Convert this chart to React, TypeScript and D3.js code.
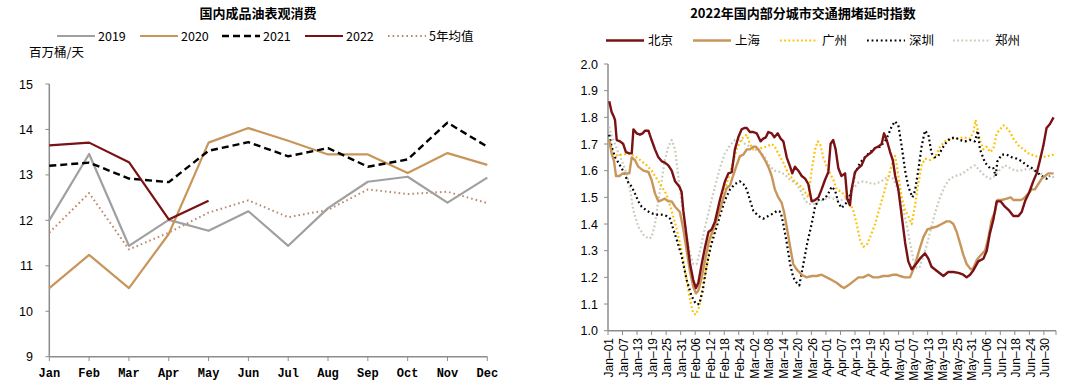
import React from 'react';
import * as d3 from 'd3';

// ---------- Left chart data ----------
const months = ['Jan', 'Feb', 'Mar', 'Apr', 'May', 'Jun', 'Jul', 'Aug', 'Sep', 'Oct', 'Nov', 'Dec'];
const s2019 = [12.0, 13.46, 11.44, 12.01, 11.77, 12.2, 11.44, 12.27, 12.85, 12.96, 12.39, 12.94];
const s2020 = [10.51, 11.24, 10.51, 11.7, 13.71, 14.03, 13.75, 13.45, 13.45, 13.04, 13.48, 13.22];
const s2021 = [13.2, 13.27, 12.92, 12.84, 13.53, 13.72, 13.41, 13.59, 13.18, 13.34, 14.15, 13.62];
const s2022 = [13.65, 13.71, 13.28, 12.02, 12.43];
const s5yr = [11.73, 12.6, 11.36, 11.73, 12.17, 12.44, 12.07, 12.23, 12.68, 12.58, 12.63, 12.38];
const leftTicks = [9, 10, 11, 12, 13, 14, 15];

// ---------- Right chart data (day index from Jan-01, value) ----------
const dayCount = 185;
const cityTickLabels = [
  'Jan–01', 'Jan–07', 'Jan–13', 'Jan–19', 'Jan–25', 'Jan–31', 'Feb–06', 'Feb–12', 'Feb–18', 'Feb–24',
  'Mar–02', 'Mar–08', 'Mar–14', 'Mar–20', 'Mar–26', 'Apr–01', 'Apr–07', 'Apr–13', 'Apr–19', 'Apr–25',
  'May–01', 'May–07', 'May–13', 'May–19', 'May–25', 'May–31', 'Jun–06', 'Jun–12', 'Jun–18', 'Jun–24', 'Jun–30',
];
const rightTicks = [1.0, 1.1, 1.2, 1.3, 1.4, 1.5, 1.6, 1.7, 1.8, 1.9, 2.0];

const beijing: [number, number][] = [
  [0, 1.86], [1, 1.82], [2, 1.8], [2.4, 1.79], [3.1, 1.715], [4.5, 1.71], [5.8, 1.7], [6.9, 1.67], [8.3, 1.665],
  [9.3, 1.665], [10, 1.755], [11.3, 1.74], [12.7, 1.735], [13.8, 1.74], [14.8, 1.75], [16.2, 1.75], [17.5, 1.715],
  [18.9, 1.68], [20.3, 1.65], [21.7, 1.635], [23, 1.63], [24.4, 1.62], [25.8, 1.6], [27.2, 1.56], [29, 1.54],
  [29.9, 1.52], [30.6, 1.45], [32, 1.35], [33.4, 1.25], [34.7, 1.19], [35.8, 1.16], [36.8, 1.18], [38.2, 1.25],
  [39.6, 1.315], [41, 1.37], [42.3, 1.38], [43.7, 1.41], [45.7, 1.49], [47.8, 1.56], [49.2, 1.59], [50.6, 1.595],
  [51.9, 1.68], [53.3, 1.725], [54.7, 1.755], [55.8, 1.76], [56.8, 1.76], [58.1, 1.745], [59.5, 1.745], [60.9, 1.74],
  [62.5, 1.71], [63.6, 1.72], [64.7, 1.725], [65.7, 1.745], [67.1, 1.74], [68.2, 1.725], [69.6, 1.74], [70.8, 1.72],
  [71.9, 1.71], [73.3, 1.65], [74.7, 1.615], [75.6, 1.59], [76.7, 1.615], [78.1, 1.6], [79.5, 1.58], [80.9, 1.57],
  [82.2, 1.55], [83.6, 1.485], [85, 1.49], [86.4, 1.5], [87.7, 1.53], [89.1, 1.565], [90.5, 1.595], [91.4, 1.7],
  [92.5, 1.715], [93.5, 1.68], [94.6, 1.61], [95.9, 1.58], [97.4, 1.59], [98.3, 1.495], [99.4, 1.47], [100.1, 1.53],
  [101.5, 1.595], [102.9, 1.61], [104.2, 1.62], [105.6, 1.65], [107, 1.66], [108.4, 1.67], [109.8, 1.685],
  [111.1, 1.69], [112.5, 1.7], [113.5, 1.74], [114.6, 1.715], [116, 1.67], [117.1, 1.64], [118.1, 1.58],
  [119.4, 1.53], [120.8, 1.43], [122.2, 1.33], [123.5, 1.26], [124.9, 1.23], [126.3, 1.245], [128.3, 1.27],
  [130.4, 1.29], [131.8, 1.27], [133.1, 1.24], [135.2, 1.225], [138, 1.205], [140, 1.22], [142.1, 1.22],
  [144.2, 1.217], [146.2, 1.21], [147.6, 1.2], [149, 1.21], [150.4, 1.227], [152.4, 1.26], [154.5, 1.27],
  [155.9, 1.3], [157.2, 1.365], [158.6, 1.415], [160, 1.485], [161.6, 1.485], [163.4, 1.465], [165.2, 1.45],
  [166.9, 1.43], [169, 1.43], [170.3, 1.445], [171.7, 1.485], [173.5, 1.52], [175.1, 1.56], [176.5, 1.59],
  [177.9, 1.64], [179.3, 1.695], [180.6, 1.76], [182, 1.775], [183.5, 1.8],
];

const shanghai: [number, number][] = [
  [0, 1.715], [1, 1.665], [2, 1.635], [2.8, 1.58], [4.2, 1.58], [5.6, 1.59], [7.2, 1.59], [8.3, 1.59], [9.3, 1.65],
  [10.6, 1.64], [12, 1.615], [14.1, 1.6], [16.2, 1.595], [17.5, 1.565], [18.9, 1.515], [20.3, 1.485], [21.7, 1.49],
  [23, 1.495], [24.4, 1.485], [25.8, 1.485], [27.2, 1.465], [29.2, 1.445], [30.6, 1.38], [32, 1.3], [33.4, 1.22],
  [34.7, 1.165], [35.8, 1.14], [36.8, 1.15], [38.2, 1.2], [39.6, 1.265], [41, 1.33], [42.3, 1.365], [44.4, 1.415],
  [46.4, 1.475], [48.5, 1.535], [49.9, 1.545], [51.3, 1.585], [52.6, 1.62], [54, 1.655], [55.4, 1.66], [56.8, 1.68],
  [58.1, 1.68], [59.5, 1.69], [60.5, 1.69], [61.6, 1.68], [63, 1.66], [64.3, 1.64], [65.7, 1.615], [67.1, 1.58],
  [68.4, 1.53], [69.8, 1.5], [71.2, 1.48], [72.2, 1.445], [73.3, 1.39], [74.7, 1.315], [76, 1.25], [77.4, 1.23],
  [79.5, 1.21], [81.5, 1.2], [83.6, 1.205], [85.7, 1.205], [87.7, 1.21], [89.8, 1.2], [91.9, 1.19], [93.9, 1.18],
  [96, 1.165], [97, 1.16], [98.7, 1.17], [100.8, 1.185], [102.9, 1.2], [104.9, 1.2], [107, 1.21], [109.1, 1.2],
  [111.1, 1.2], [113.2, 1.205], [115.3, 1.205], [117.3, 1.21], [118.7, 1.21], [120.1, 1.205], [122.1, 1.2],
  [124.2, 1.2], [125.6, 1.23], [127, 1.27], [128.3, 1.31], [129.7, 1.35], [131.4, 1.38], [133.1, 1.385],
  [135.2, 1.39], [137.3, 1.4], [139.3, 1.41], [140.7, 1.41], [142.1, 1.4], [143.5, 1.37], [144.8, 1.33],
  [146.2, 1.285], [147.6, 1.25], [149.3, 1.23], [150.4, 1.235], [151.8, 1.265], [153.1, 1.28], [155.2, 1.3],
  [156.6, 1.35], [157.9, 1.415], [159.3, 1.445], [160.3, 1.49], [162.1, 1.49], [164.2, 1.495], [165.8, 1.5],
  [166.9, 1.49], [168.3, 1.49], [170, 1.49], [171.1, 1.495], [172.7, 1.51], [174.5, 1.53], [175.8, 1.53],
  [177.2, 1.55], [178.6, 1.57], [180, 1.58], [181.3, 1.59], [183.5, 1.59],
];

const guangzhou: [number, number][] = [
  [0, 1.71], [1, 1.68], [2.4, 1.655], [3.8, 1.66], [5.8, 1.66], [7.9, 1.665], [9.3, 1.66], [11.3, 1.65],
  [13.4, 1.635], [15.5, 1.62], [17.5, 1.6], [19.6, 1.57], [21.7, 1.54], [23.7, 1.51], [25.8, 1.45], [27.9, 1.38],
  [29.9, 1.3], [32, 1.19], [33.4, 1.115], [34.7, 1.065], [35.8, 1.06], [37.2, 1.09], [38.9, 1.18], [41, 1.28],
  [42.3, 1.34], [44.4, 1.415], [46.4, 1.48], [48.5, 1.55], [50.6, 1.615], [52.6, 1.68], [54.7, 1.72], [56.8, 1.735],
  [58.1, 1.7], [59.5, 1.68], [60.9, 1.68], [63, 1.685], [65, 1.69], [67.1, 1.7], [68.4, 1.69], [69.8, 1.665],
  [71.9, 1.63], [73.9, 1.59], [76, 1.565], [78.1, 1.55], [80.2, 1.53], [82.2, 1.5], [83.6, 1.6], [85, 1.68],
  [86.1, 1.71], [87.1, 1.7], [88.4, 1.65], [89.8, 1.615], [91.2, 1.59], [92.6, 1.565], [93.9, 1.53], [96, 1.52],
  [97.8, 1.5], [99.4, 1.48], [100.8, 1.45], [102.2, 1.4], [103.6, 1.34], [104.9, 1.315], [106.3, 1.32],
  [107.7, 1.35], [109.8, 1.4], [111.8, 1.465], [113.9, 1.53], [116, 1.6], [117.3, 1.64], [118.1, 1.655],
  [119.4, 1.58], [120.8, 1.5], [122.2, 1.45], [123.5, 1.43], [124.9, 1.4], [126.3, 1.47], [127.6, 1.55],
  [129, 1.62], [130.4, 1.645], [132.5, 1.64], [134.5, 1.65], [136.6, 1.69], [138.7, 1.71], [140.7, 1.72],
  [143.5, 1.72], [146.2, 1.725], [149, 1.72], [150.4, 1.745], [151.3, 1.79], [152.2, 1.75], [153.1, 1.715],
  [154.5, 1.68], [155.9, 1.69], [157.2, 1.67], [158.6, 1.68], [160, 1.74], [161.4, 1.755], [162.8, 1.77],
  [164.1, 1.76], [165.5, 1.745], [166.9, 1.72], [169, 1.695], [171.1, 1.68], [173.1, 1.665], [175.8, 1.655],
  [178.6, 1.65], [181.3, 1.655], [183.5, 1.66],
];

const shenzhen: [number, number][] = [
  [0, 1.735], [1, 1.69], [2.4, 1.65], [3.8, 1.63], [5.1, 1.61], [6.5, 1.585], [7.9, 1.555], [9.3, 1.54],
  [10.6, 1.515], [12, 1.485], [13.4, 1.465], [15.5, 1.45], [17.5, 1.44], [19.6, 1.435], [21.7, 1.435], [23.7, 1.43],
  [25.1, 1.42], [26.5, 1.38], [28.1, 1.335], [29.9, 1.28], [32, 1.19], [34, 1.13], [35.8, 1.1], [37.2, 1.1],
  [38.6, 1.15], [40.2, 1.24], [41.9, 1.315], [43.7, 1.37], [45.7, 1.43], [47.8, 1.49], [49.9, 1.53], [51.9, 1.55],
  [54, 1.56], [55.4, 1.55], [56.8, 1.53], [58.1, 1.49], [59.5, 1.45], [61.6, 1.43], [63.6, 1.42], [65.7, 1.43],
  [67.8, 1.44], [69.4, 1.45], [70.8, 1.445], [71.9, 1.4], [73.3, 1.33], [74.7, 1.25], [76, 1.2], [77.4, 1.18],
  [78.5, 1.17], [80.2, 1.25], [81.8, 1.33], [83.6, 1.4], [85, 1.465], [86.4, 1.49], [87.7, 1.49], [89.1, 1.495],
  [90.5, 1.515], [91.9, 1.54], [93.3, 1.525], [94.6, 1.48], [96, 1.46], [97.4, 1.475], [98.7, 1.485], [100.1, 1.53],
  [101.5, 1.59], [103.6, 1.63], [105.6, 1.65], [107.7, 1.67], [109.8, 1.685], [111.8, 1.69], [113.9, 1.71],
  [115.3, 1.735], [116.6, 1.765], [118, 1.785], [119.4, 1.77], [120.8, 1.69], [122.2, 1.6], [123.5, 1.54],
  [125.2, 1.5], [126.3, 1.525], [127.6, 1.6], [129, 1.69], [130.4, 1.75], [131.8, 1.735], [133.1, 1.665],
  [134.5, 1.65], [135.9, 1.655], [137.3, 1.68], [138.7, 1.7], [140.7, 1.72], [142.8, 1.725], [144.8, 1.715],
  [146.9, 1.71], [149, 1.715], [151, 1.71], [152.2, 1.75], [153.1, 1.68], [155.2, 1.63], [157.2, 1.61],
  [158.6, 1.61], [159.6, 1.58], [160.3, 1.635], [162.1, 1.66], [164.2, 1.66], [166.3, 1.65], [168.3, 1.645],
  [170.4, 1.635], [172.4, 1.62], [174.5, 1.61], [176.5, 1.595], [178.6, 1.58], [180.6, 1.57], [182, 1.58],
];

const zhengzhou: [number, number][] = [
  [0, 1.765], [1, 1.73], [2.4, 1.7], [3.8, 1.665], [5.1, 1.64], [7.2, 1.59], [8.6, 1.53], [10, 1.45], [12, 1.39],
  [14.1, 1.36], [16.2, 1.345], [17.5, 1.35], [18.9, 1.4], [20.3, 1.49], [21.7, 1.565], [23, 1.64], [24.4, 1.69],
  [25.8, 1.715], [27.2, 1.68], [28.5, 1.58], [29.9, 1.48], [31.3, 1.39], [33.1, 1.3], [34.7, 1.25], [36.1, 1.25],
  [37.5, 1.3], [39.6, 1.39], [41.6, 1.465], [43.7, 1.54], [45.7, 1.61], [47.8, 1.665], [49.9, 1.695], [51.9, 1.715],
  [54, 1.72], [56.1, 1.7], [58.1, 1.69], [60.2, 1.68], [62.3, 1.67], [64.3, 1.65], [66.4, 1.615], [68.4, 1.6],
  [70.5, 1.595], [72.6, 1.585], [74.7, 1.565], [76.7, 1.555], [78.8, 1.53], [80.9, 1.49], [82.2, 1.475],
  [84.3, 1.475], [86.4, 1.485], [88.4, 1.49], [90.5, 1.5], [92.6, 1.495], [94.6, 1.49], [96.7, 1.49], [98.7, 1.5],
  [100.8, 1.535], [102.9, 1.555], [104.9, 1.56], [107, 1.555], [109.1, 1.55], [111.1, 1.555], [113.2, 1.565],
  [115.3, 1.58], [117.3, 1.57], [118.7, 1.54], [120.1, 1.5], [121.5, 1.45], [123, 1.39], [124.2, 1.33],
  [125.6, 1.265], [127, 1.235], [128.3, 1.24], [129.7, 1.28], [131.1, 1.32], [132.5, 1.37], [134.5, 1.44],
  [136.6, 1.5], [138.7, 1.545], [140.7, 1.57], [142.8, 1.58], [144.8, 1.585], [146.9, 1.595], [149, 1.61],
  [151, 1.62], [153.1, 1.6], [155.2, 1.58], [157.2, 1.57], [159.3, 1.58], [161.4, 1.605], [163.4, 1.62],
  [165.5, 1.61], [167.6, 1.6], [169.6, 1.6], [171.7, 1.605], [173.8, 1.605], [175.8, 1.6], [177.9, 1.59],
  [180, 1.58], [182, 1.58], [183.7, 1.575],
];

const FONT = "'Liberation Sans', Arial, 'Noto Sans CJK SC', sans-serif";
const CJK = "'Noto Sans CJK SC', 'Liberation Sans', sans-serif";

const C_RED = '#7A1114';
const C_TAN = '#C8955A';
const C_GRAY = '#A0A0A0';
const C_YEL = '#FFC000';
const C_ZZ = '#CACABA';
const C_5Y = '#B98A6E';
const AXIS = '#8C8C8C';

export default function App() {
  // Left chart scales
  const lx = d3.scalePoint<string>().domain(months).range([49.3, 487.3]);
  const ly = d3.scaleLinear().domain([9, 15]).range([356.7, 84]);
  const mLine = d3.line<number>().x((_, i) => lx(months[i]) as number).y((d) => ly(d));

  // Right chart scales
  const rx = d3.scaleLinear().domain([0, dayCount]).range([608, 1056]);
  const ry = d3.scaleLinear().domain([1, 2]).range([330.7, 64]);
  const cLine = d3.line<[number, number]>().x((d) => rx(d[0] + 0.5)).y((d) => ry(d[1])).curve(d3.curveLinear);

  const leftSeries = [
    { name: '2019', data: s2019, color: C_GRAY, dash: undefined as string | undefined, w: 2.2 },
    { name: '2020', data: s2020, color: C_TAN, dash: undefined, w: 2.2 },
    { name: '2021', data: s2021, color: '#000000', dash: '7,4', w: 2.4 },
    { name: '2022', data: s2022, color: C_RED, dash: undefined, w: 2.2 },
    { name: '5年均值', data: s5yr, color: C_5Y, dash: '1.6,3', w: 2 },
  ];
  const leftLegendX = [57, 140, 222, 305, 388];

  const citySeries = [
    { name: '北京', data: beijing, color: C_RED, dash: undefined as string | undefined, w: 2.4 },
    { name: '上海', data: shanghai, color: C_TAN, dash: undefined, w: 2.4 },
    { name: '广州', data: guangzhou, color: C_YEL, dash: '1.8,2.4', w: 2.2 },
    { name: '深圳', data: shenzhen, color: '#000000', dash: '1.8,2.8', w: 2.2 },
    { name: '郑州', data: zhengzhou, color: C_ZZ, dash: '1.8,2.4', w: 2.2 },
  ];
  const cityLegendX = [606, 693, 780, 867, 953];
  // draw order: dotted first, then solid
  const drawOrder = [4, 2, 3, 1, 0];

  return (
    <svg
      width={1080}
      height={391}
      style={{ position: 'absolute', left: 0, top: 0, background: '#fff' }}
      fontFamily={FONT}
    >
      <rect x={0} y={0} width={1080} height={391} fill="#fff" />
      {/* ---------------- LEFT CHART ---------------- */}
      <text x={258} y={18} textAnchor="middle" fontSize={13} fontWeight="bold" fontFamily={CJK} fill="#000">
        国内成品油表观消费
      </text>
      {leftSeries.map((s, i) => (
        <g key={s.name}>
          <line x1={leftLegendX[i]} x2={leftLegendX[i] + 38} y1={36} y2={36} stroke={s.color} strokeWidth={s.w} strokeDasharray={s.dash} />
          <text x={leftLegendX[i] + 41} y={40.5} fontSize={12.5} fontFamily={CJK} fill="#000">{s.name}</text>
        </g>
      ))}
      <text x={29} y={57} fontSize={12.5} fontFamily={CJK} fill="#000">百万桶/天</text>

      {/* axes */}
      <line x1={49.3} x2={49.3} y1={84} y2={356.7} stroke={AXIS} strokeWidth={1.5} />
      <line x1={49.3} x2={487.3} y1={356.7} y2={356.7} stroke={AXIS} strokeWidth={1.5} />
      {leftTicks.map((t) => (
        <g key={t}>
          <line x1={45.5} x2={49.3} y1={ly(t)} y2={ly(t)} stroke={AXIS} strokeWidth={1} />
          <text x={33} y={ly(t) + 4.5} textAnchor="end" fontSize={12.5} fill="#000">{t}</text>
        </g>
      ))}
      {months.map((m) => (
        <g key={m}>
          <line x1={lx(m)} x2={lx(m)} y1={356.7} y2={361} stroke={AXIS} strokeWidth={1} />
          <text x={lx(m)} y={377} textAnchor="middle" fontSize={12} fontWeight="bold" fontFamily="'Liberation Mono', 'DejaVu Sans Mono', monospace" fill="#000">{m}</text>
        </g>
      ))}
      {[4, 0, 1, 2, 3].map((k) => {
        const s = leftSeries[k];
        return (
          <path key={s.name} d={mLine(s.data) || ''} fill="none" stroke={s.color} strokeWidth={s.w} strokeDasharray={s.dash} strokeLinejoin="round" />
        );
      })}

      {/* ---------------- RIGHT CHART ---------------- */}
      <text x={803} y={18} textAnchor="middle" fontSize={13} fontWeight="bold" fontFamily={CJK} fill="#000">
        2022年国内部分城市交通拥堵延时指数
      </text>
      {citySeries.map((s, i) => (
        <g key={s.name}>
          <line x1={cityLegendX[i]} x2={cityLegendX[i] + 38} y1={40.5} y2={40.5} stroke={s.color} strokeWidth={s.w} strokeDasharray={s.dash} />
          <text x={cityLegendX[i] + 42} y={45} fontSize={12.5} fontFamily={CJK} fill="#000">{s.name}</text>
        </g>
      ))}
      <line x1={608} x2={608} y1={64} y2={330.7} stroke={AXIS} strokeWidth={1.5} />
      <line x1={608} x2={1056} y1={330.7} y2={330.7} stroke={AXIS} strokeWidth={1.5} />
      {rightTicks.map((t) => (
        <g key={t}>
          <line x1={604} x2={608} y1={ry(t)} y2={ry(t)} stroke={AXIS} strokeWidth={1} />
          <text x={598} y={ry(t) + 4.5} textAnchor="end" fontSize={12.5} fill="#000">{t.toFixed(1)}</text>
        </g>
      ))}
      {d3.range(0, dayCount + 1, 6).concat([dayCount]).map((d, i) => (
        <line key={'t' + i} x1={rx(d)} x2={rx(d)} y1={330.7} y2={335} stroke={AXIS} strokeWidth={1} />
      ))}
      {cityTickLabels.map((lab, i) => {
        const x = rx(i * 6 + 0.5) + 4;
        return (
          <text key={lab} transform={`translate(${x},338) rotate(-90)`} textAnchor="end" fontSize={12} fill="#000">
            {lab}
          </text>
        );
      })}
      {drawOrder.map((k) => {
        const s = citySeries[k];
        return (
          <path key={s.name} d={cLine(s.data) || ''} fill="none" stroke={s.color} strokeWidth={s.w} strokeDasharray={s.dash} strokeLinejoin="round" />
        );
      })}
    </svg>
  );
}
